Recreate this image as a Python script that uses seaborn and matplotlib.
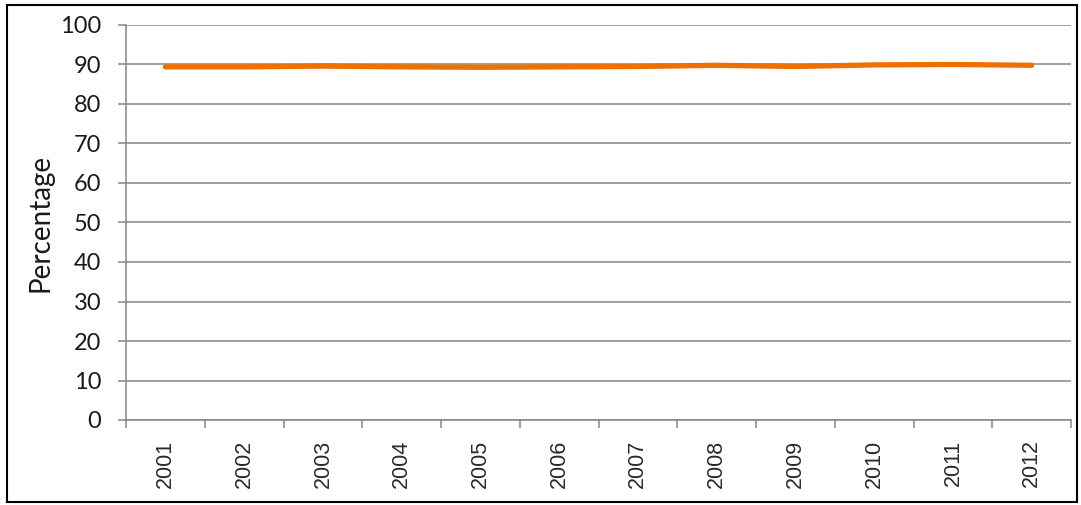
import numpy as np
import pandas as pd
import matplotlib
matplotlib.use('Agg')
import matplotlib.pyplot as plt
import seaborn as sns
from matplotlib.patches import Rectangle

# 데이터
years = ['2001', '2002', '2003', '2004', '2005', '2006',
         '2007', '2008', '2009', '2010', '2011', '2012']
percentage = [89.4, 89.4, 89.6, 89.4, 89.3, 89.4,
              89.5, 89.8, 89.5, 89.9, 90.0, 89.8]
y_ticks = [0, 10, 20, 30, 40, 50, 60, 70, 80, 90, 100]

LINE_COLOR = '#ED7000'
GRID_COLOR = '#868686'
TEXT_COLOR = '#1a1a1a'

sns.set_theme(style='white')
plt.rcParams['font.family'] = ['Lato', 'DejaVu Sans']

df = pd.DataFrame({'Year': years, 'Percentage': percentage})

fig = plt.figure(figsize=(10.81, 5.05), dpi=100)
ax = fig.add_axes([126 / 1081, 1 - 420 / 505, 945 / 1081, 395 / 505])

sns.lineplot(data=df, x='Year', y='Percentage', ax=ax,
             color=LINE_COLOR, linewidth=3.8, solid_capstyle='round')

# 축 설정
ax.set_ylim(0, 100)
ax.set_xlim(-0.5, len(years) - 0.5)
ax.set_yticks(y_ticks)
ax.set_yticklabels([str(t) for t in y_ticks], fontsize=17)
ax.yaxis.grid(True, color=GRID_COLOR, linewidth=1.1)
ax.set_axisbelow(True)

# 카테고리 경계 눈금 + 가운데 라벨
ax.set_xticks(np.arange(len(years) + 1) - 0.5)
ax.set_xticklabels([])
ax.set_xticks(np.arange(len(years)), minor=True)
ax.set_xticklabels(years, minor=True, rotation=90, fontsize=15.5,
                   family=['Liberation Sans', 'DejaVu Sans'])
ax.tick_params(axis='x', which='major', direction='out', length=5.8,
               width=1.1, color=GRID_COLOR, bottom=True)
ax.tick_params(axis='x', which='minor', length=0, pad=14, colors='#2a2a2a')
ax.tick_params(axis='y', direction='out', length=5.8, width=1.1,
               color=GRID_COLOR, left=True, pad=12, labelcolor=TEXT_COLOR)

for side in ['top', 'right']:
    ax.spines[side].set_visible(False)
for side in ['left', 'bottom']:
    ax.spines[side].set_color(GRID_COLOR)
    ax.spines[side].set_linewidth(1.1)

ax.set_xlabel('')
ax.set_ylabel('Percentage', fontsize=20, color=TEXT_COLOR, labelpad=5)

# 바깥 테두리
fig.patches.append(Rectangle((7 / 1081, 3 / 505), 1070 / 1081, 497 / 505,
                             transform=fig.transFigure, fill=False,
                             edgecolor='black', linewidth=1.5))

fig.savefig('out.png', dpi=100)
plt.close(fig)
